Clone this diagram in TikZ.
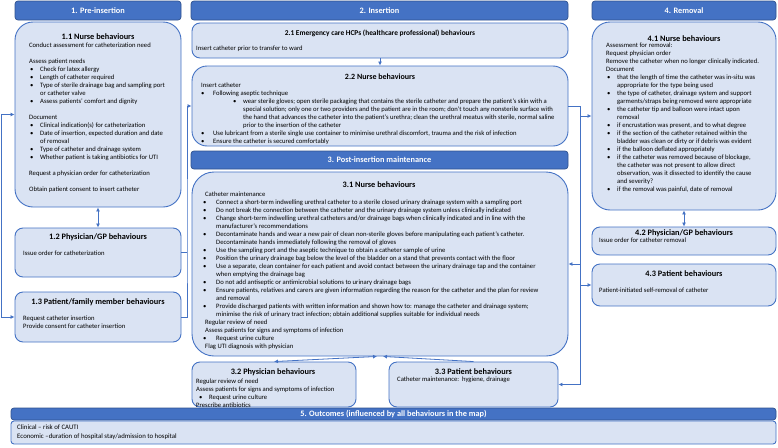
\documentclass[tikz,border=0pt]{standalone}
\usepackage{fontspec}
\setmainfont{Carlito}
\usetikzlibrary{arrows.meta}
\definecolor{headc}{HTML}{4472C4}
\definecolor{headb}{HTML}{2F528F}
\definecolor{boxc}{HTML}{DAE3F3}
\definecolor{boxb}{HTML}{4472C4}
\definecolor{arrc}{HTML}{4472C4}
\newcommand\mybu[1]{\makebox[#1pt][l]{\textbullet}}
\newcommand\myhs[1]{\hspace*{#1pt}}
\newcommand\bodyfont{\fontsize{6.65}{8}\selectfont}
\tikzset{
  box/.style={rectangle, draw=boxb, fill=boxc, line width=0.9pt, inner sep=0pt},
  head/.style={rectangle, draw=headb, fill=headc, line width=0.7pt, rounded corners=3pt, inner sep=0pt,
    text=white, font=\fontsize{8.3}{10}\selectfont\bfseries, text height=5.3pt, text depth=0pt},
  ttl/.style={anchor=base, inner sep=0pt, font=\fontsize{8.3}{10}\selectfont\bfseries},
  txt/.style={anchor=north west, inner sep=0pt, align=left, font=\bodyfont},
  arr/.style={draw=arrc, line width=0.8pt, -{Latex[length=4pt,width=4pt]}},
  darr/.style={draw=arrc, line width=0.8pt, {Latex[length=4pt,width=4pt]}-{Latex[length=4pt,width=4pt]}},
  ln/.style={draw=arrc, line width=0.8pt}
}
\begin{document}
\begin{tikzpicture}[x=1pt,y=-1pt]
\useasboundingbox (0,0) rectangle (778,447);

% headers
\node[head, minimum width=166pt, minimum height=19pt] (h1) at (98,10.5) {1. Pre-insertion};
\node[head, minimum width=377pt, minimum height=19pt] (h2) at (379.5,10.5) {2. Insertion};
\node[head, minimum width=184pt, minimum height=19pt] (h4) at (684,10.5) {4. Removal};
\node[head, minimum width=377pt, minimum height=18pt] (h3) at (379.5,160) {3. Post-insertion maintenance};
\node[head, minimum width=765pt, minimum height=12pt] (h5) at (393.5,414) {5. Outcomes (influenced by all behaviours in the map)};

% boxes
\node[box, rounded corners=18pt, minimum width=166pt, minimum height=185pt] (n11) at (98,114.5) {};
\node[box, rounded corners=8pt, minimum width=166pt, minimum height=49pt] (n12) at (98,252.5) {};
\node[box, rounded corners=8pt, minimum width=166pt, minimum height=50pt] (n13) at (98,317) {};
\node[box, rounded corners=8pt, minimum width=376pt, minimum height=35pt] (n21) at (380,40.5) {};
\node[box, rounded corners=15pt, minimum width=376pt, minimum height=80pt] (n22) at (380,106) {};
\node[box, rounded corners=22pt, minimum width=376pt, minimum height=184pt] (n31) at (380,264) {};
\node[box, rounded corners=8pt, minimum width=164pt, minimum height=45pt] (n32) at (274,384.5) {};
\node[box, rounded corners=8pt, minimum width=169pt, minimum height=45pt] (n33) at (473.5,384.5) {};
\node[box, rounded corners=18pt, minimum width=184pt, minimum height=188pt] (n41) at (684,116) {};
\node[box, rounded corners=8pt, minimum width=184pt, minimum height=28pt] (n42) at (684,241) {};
\node[box, rounded corners=8pt, minimum width=184pt, minimum height=42pt] (n43) at (684,285) {};
\node[box, rounded corners=3pt, minimum width=765pt, minimum height=23pt] (n5) at (393.5,432.5) {};

% titles
\node[ttl] (t11) at (98,39.5) {1.1 Nurse behaviours};
\node[ttl] (t12) at (98,239.5) {1.2 Physician/GP behaviours};
\node[ttl] (t13) at (98,304.5) {1.3 Patient/family member behaviours};
\node[ttl, font=\fontsize{7.4}{9}\selectfont\bfseries] (t21) at (380,35.3) {2.1 Emergency care HCPs (healthcare professional) behaviours};
\node[ttl, font=\fontsize{8}{10}\selectfont\bfseries] (t22) at (380,79.5) {2.2 Nurse behaviours};
\node[ttl] (t31) at (379,187.5) {3.1 Nurse behaviours};
\node[ttl] (t32) at (273,374.5) {3.2 Physician behaviours};
\node[ttl] (t33) at (473.5,374.5) {3.3 Patient behaviours};
\node[ttl] (t41) at (684,41.5) {4.1 Nurse behaviours};
\node[ttl] (t42) at (684,235.5) {4.2 Physician/GP behaviours};
\node[ttl] (t43) at (684,276.5) {4.3 Patient behaviours};

% texts
\node[txt] (x11) at (29,41.9) {\strut Conduct assessment for catheterization need\\[8pt]
Assess patient needs\\
\myhs{1}\mybu{10}Check for latex allergy\\
\myhs{1}\mybu{10}Length of catheter required\\
\myhs{1}\mybu{10}Type of sterile drainage bag and sampling port\\
\myhs{11}or catheter valve\\
\myhs{1}\mybu{10}Assess patients’ comfort and dignity\\[8pt]
Document\\
\myhs{1}\mybu{10}Clinical indication(s) for catheterization\\
\myhs{1}\mybu{10}Date of insertion, expected duration and date\\
\myhs{11}of removal\\
\myhs{1}\mybu{10}Type of catheter and drainage system\\
\myhs{1}\mybu{10}Whether patient is taking antibiotics for UTI\\[8pt]
Request a physician order for catheterization\\[8pt]
Obtain patient consent to insert catheter};

\node[txt] (x12) at (23,249.9) {\strut Issue order for catheterization};
\node[txt] (x13) at (23,314.9) {\strut Request catheter insertion\\Provide consent for catheter insertion};
\node[txt] (x21) at (196,44.9) {\strut Insert catheter prior to transfer to ward};

\node[txt] (x22) at (201,81.9) {\strut Insert catheter\\
\mybu{12}Following aseptic technique\\
\myhs{32}\mybu{10}wear sterile gloves; open sterile packaging that contains the sterile catheter and prepare the patient’s skin with a\\
\myhs{42}special solution; only one or two providers and the patient are in the room; don’t touch any nonsterile surface with\\
\myhs{42}the hand that advances the catheter into the patient’s urethra; clean the urethral meatus with sterile, normal saline\\
\myhs{42}prior to the insertion of the catheter\\
\mybu{12}Use lubricant from a sterile single use container to minimise urethral discomfort, trauma and the risk of infection\\
\mybu{12}Ensure the catheter is secured comfortably};

\node[txt] (x31) at (203,190.9) {\strut\myhs{2}Catheter maintenance\\
\mybu{13}Connect a short-term indwelling urethral catheter to a sterile closed urinary drainage system with a sampling port\\
\mybu{13}Do not break the connection between the catheter and the urinary drainage system unless clinically indicated\\
\mybu{13}Change short-term indwelling urethral catheters and/or drainage bags when clinically indicated and in line with the\\
\myhs{13}manufacturer’s recommendations\\
\mybu{13}Decontaminate hands and wear a new pair of clean non-sterile gloves before manipulating each patient’s catheter.\\
\myhs{13}Decontaminate hands immediately following the removal of gloves\\
\mybu{13}Use the sampling port and the aseptic technique to obtain a catheter sample of urine\\
\mybu{13}Position the urinary drainage bag below the level of the bladder on a stand that prevents contact with the floor\\
\mybu{13}Use a separate, clean container for each patient and avoid contact between the urinary drainage tap and the container\\
\myhs{13}when emptying the drainage bag\\
\mybu{13}Do not add antiseptic or antimicrobial solutions to urinary drainage bags\\
\mybu{13}Ensure patients, relatives and carers are given information regarding the reason for the catheter and the plan for review\\
\myhs{13}and removal\\
\mybu{13}Provide discharged patients with written information and shown how to: manage the catheter and drainage system;\\
\myhs{13}minimise the risk of urinary tract infection; obtain additional supplies suitable for individual needs\\
\myhs{2}Regular review of need\\
\myhs{2}Assess patients for signs and symptoms of infection\\
\mybu{13}Request urine culture\\
\myhs{2}Flag UTI diagnosis with physician};

\node[txt] (x32) at (196,377.4) {\strut Regular review of need\\
Assess patients for signs and symptoms of infection\\
\myhs{3}\mybu{10}Request urine culture\\
Prescribe antibiotics};
\node[txt] (x33) at (397,375.9) {\strut Catheter maintenance:\ \ hygiene, drainage};

\node[txt] (x41) at (606,41.9) {\strut Assessment for removal:\\
Request physician order\\
Remove the catheter when no longer clinically indicated.\\
Document\\
\myhs{1}\mybu{10}that the length of time the catheter was in-situ was\\
\myhs{11}appropriate for the type being used\\
\myhs{1}\mybu{10}the type of catheter, drainage system and support\\
\myhs{11}garments/straps being removed were appropriate\\
\myhs{1}\mybu{10}the catheter tip and balloon were intact upon\\
\myhs{11}removal\\
\myhs{1}\mybu{10}if encrustation was present, and to what degree\\
\myhs{1}\mybu{10}if the section of the catheter retained within the\\
\myhs{11}bladder was clean or dirty or if debris was evident\\
\myhs{1}\mybu{10}if the balloon deflated appropriately\\
\myhs{1}\mybu{10}if the catheter was removed because of blockage,\\
\myhs{11}the catheter was not present to allow direct\\
\myhs{11}observation, was it dissected to identify the cause\\
\myhs{11}and severity?\\
\myhs{1}\mybu{10}if the removal was painful, date of removal};

\node[txt] (x42) at (599,236.9) {\strut Issue order for catheter removal};
\node[txt] (x43) at (599,286.9) {\strut Patient-initiated self-removal of catheter};
\node[txt, font=\fontsize{6.8}{9}\selectfont] (x5) at (17,423.2) {\strut Clinical – risk of CAUTI\\Economic –duration of hospital stay/admission to hospital};

% connectors
\draw[darr] (n11.west) -- ++(-13,0) |- (n13.west);
\draw[darr] (n11.south) -- (n12.north);
\coordinate (jl) at (187,250);
\draw[ln] (n12.east) -- (n12.east -| jl);
\draw[arr] (n13.east) -| (jl) |- (n22.west);
\draw[arr] (n21.south) -- (n22.north);
\coordinate (tr) at (580,0);
\draw[ln] (n22.east) -- (n22.east -| tr) -- (tr |- n33.east);
\draw[arr] (tr |- n41.west) -- (n41.west);
\draw[arr] (tr |- n31.east) -- (n31.east);
\draw[arr] (tr |- n43.west) -- (n43.west);
\draw[arr] (tr |- n33.east) -- (n33.east);
\draw[darr] (n32.north) -- ([xshift=-3pt]n31.south);
\draw[arr] (n33.north) -- ([xshift=3pt]n31.south);
\draw[darr] (n41.south) -- (n42.north);
\end{tikzpicture}
\end{document}
